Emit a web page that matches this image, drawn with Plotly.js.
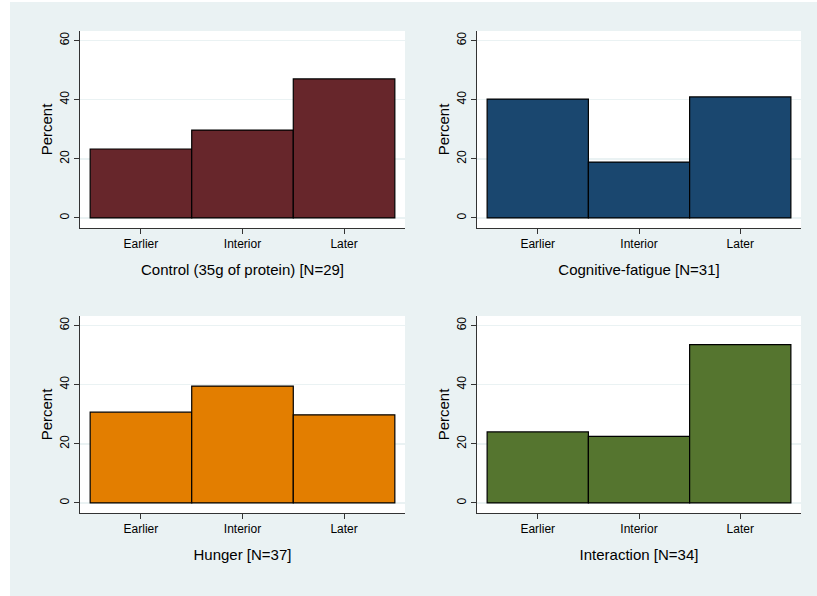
<!DOCTYPE html>
<html><head><meta charset="utf-8">
<script src="https://cdn.plot.ly/plotly-3.0.1.min.js"></script>
<style>html,body{margin:0;padding:0;background:#fff}</style>
</head><body><div id="chart" style="width:817px;height:596px"></div>
<script>
const categories = ["Earlier", "Interior", "Later"];
const panelTitles = ["Control (35g of protein) [N=29]", "Cognitive-fatigue [N=31]", "Hunger [N=37]", "Interaction [N=34]"];
const control = [23.3, 29.7, 47.0];
const cognitive = [40.2, 18.9, 40.9];
const hunger = [30.7, 39.5, 29.8];
const interaction = [24.0, 22.5, 53.5];
const yTicks = [0, 20, 40, 60];

const series = [control, cognitive, hunger, interaction];
const colors = ["#67262b", "#1a476f", "#e37e00", "#55752f"];
const W = 817, H = 596;
const xDom = [[80 / W, 405 / W], [477 / W, 801 / W]];
const yDom = [[1 - 228 / H, 1 - 31 / H], [1 - 513 / H, 1 - 316 / H]];
const font = "Liberation Sans, Arial, sans-serif";

const traces = series.map((vals, i) => ({
  type: "bar",
  x: categories,
  y: vals,
  width: 1,
  xaxis: i === 0 ? "x" : "x" + (i + 1),
  yaxis: i === 0 ? "y" : "y" + (i + 1),
  marker: { color: colors[i], line: { color: "#000", width: 1.2 } },
  hoverinfo: "x+y",
  showlegend: false
}));

const layout = {
  width: W, height: H,
  margin: { l: 0, r: 0, t: 0, b: 0 },
  paper_bgcolor: "#eaf2f3",
  plot_bgcolor: "#ffffff",
  font: { family: font, color: "#000" },
  bargap: 0,
  shapes: [
    { type: "rect", xref: "paper", yref: "paper", x0: 0, x1: 10 / W, y0: 0, y1: 1, fillcolor: "#ffffff", line: { width: 0 }, layer: "above" },
    { type: "rect", xref: "paper", yref: "paper", x0: 0, x1: 1, y0: 1 - 2 / H, y1: 1, fillcolor: "#ffffff", line: { width: 0 }, layer: "above" }
  ]
};

for (let i = 0; i < 4; i++) {
  const sfx = i === 0 ? "" : String(i + 1);
  const col = i % 2, row = Math.floor(i / 2);
  layout["xaxis" + sfx] = {
    domain: xDom[col],
    anchor: "y" + sfx,
    type: "category",
    range: [-0.6, 2.6],
    showline: true, linecolor: "#333", linewidth: 1,
    ticks: "outside", ticklen: 5, tickcolor: "#333", tickwidth: 1,
    showgrid: false, zeroline: false,
    tickfont: { size: 12, family: font, color: "#000" },
    title: { text: panelTitles[i], font: { size: 15, family: font, color: "#000" }, standoff: 14 },
    fixedrange: true
  };
  layout["yaxis" + sfx] = {
    domain: yDom[row],
    anchor: "x" + sfx,
    range: [-3.4, 63.2],
    tickvals: yTicks,
    ticktext: yTicks.map(String),
    tickangle: -90,
    showline: true, linecolor: "#333", linewidth: 1,
    ticks: "outside", ticklen: 5, tickcolor: "#333", tickwidth: 1,
    showgrid: true, gridcolor: "#eaf2f3", gridwidth: 1.5,
    zeroline: false,
    tickfont: { size: 12, family: font, color: "#000" },
    title: { text: "Percent", font: { size: 15, family: font, color: "#000" }, standoff: 1 },
    fixedrange: true
  };
}

Plotly.newPlot("chart", traces, layout, { displayModeBar: false, staticPlot: true });
</script>
</body></html>
